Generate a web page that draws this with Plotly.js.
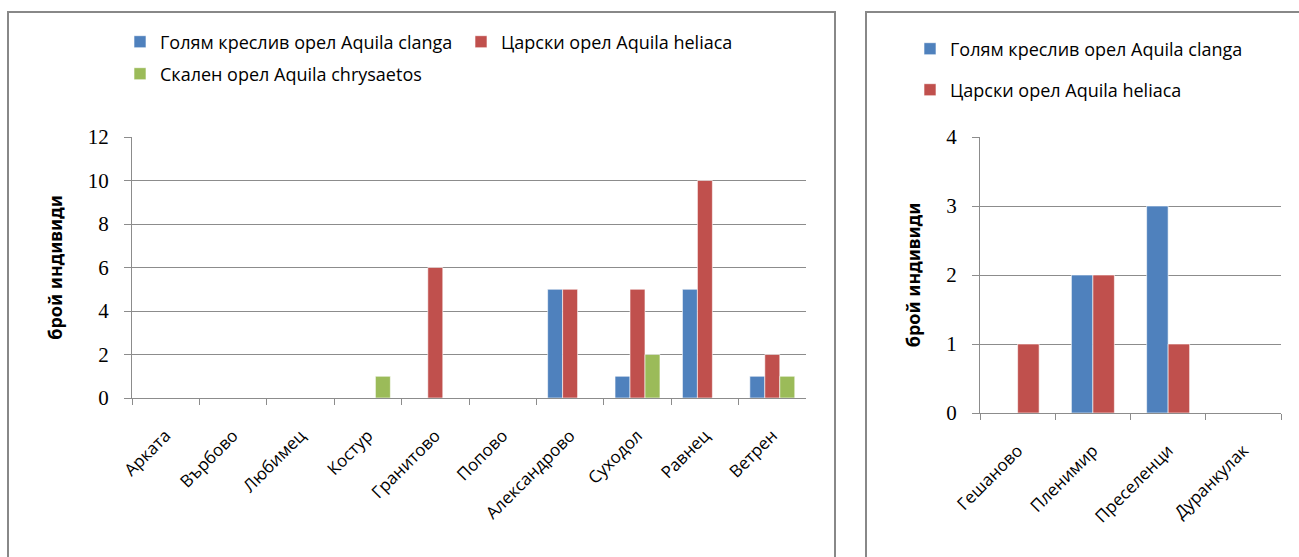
<!DOCTYPE html>
<html>
<head>
<meta charset="utf-8">
<script src="https://cdn.plot.ly/plotly-3.0.1.min.js"></script>
<style>
html,body{margin:0;padding:0;background:#fff;}
#chart{width:1299px;height:557px;}
</style>
</head>
<body>
<div id="chart"></div>
<script>
// ---- data ----
const seriesNames = ["Голям креслив орел Aquila clanga", "Царски орел Aquila heliaca", "Скален орел Aquila chrysaetos"];
const sitesLeft = ["Арката", "Върбово", "Любимец", "Костур", "Гранитово", "Попово", "Александрово", "Суходол", "Равнец", "Ветрен"];
const clangaLeft = [0, 0, 0, 0, 0, 0, 5, 1, 5, 1];
const heliacaLeft = [0, 0, 0, 0, 6, 0, 5, 5, 10, 2];
const chrysaetosLeft = [0, 0, 0, 1, 0, 0, 0, 2, 0, 1];
const sitesRight = ["Гешаново", "Пленимир", "Преселенци", "Дуранкулак"];
const clangaRight = [0, 2, 3, 0];
const heliacaRight = [1, 2, 1, 0];
const yTitle = "брой индивиди";

// ---- styles ----
const W = 1299, H = 557;
const px = v => v / W;
const py = v => 1 - v / H;
const colors = ["#4F81BD", "#C0504D", "#9BBB59"];
const gridCol = "#8c8c8c";
const lineStyle = {color: "#ffffff", width: 0.6};

const wL = 1 / 4.5, wR = 1 / 3.5;

const traces = [
  {type: "bar", x: sitesLeft, y: clangaLeft, name: seriesNames[0], marker: {color: colors[0], line: lineStyle}, width: wL, offset: -1.5 * wL, xaxis: "x", yaxis: "y", legend: "legend"},
  {type: "bar", x: sitesLeft, y: heliacaLeft, name: seriesNames[1], marker: {color: colors[1], line: lineStyle}, width: wL, offset: -0.5 * wL, xaxis: "x", yaxis: "y", legend: "legend"},
  {type: "bar", x: sitesLeft, y: chrysaetosLeft, name: seriesNames[2], marker: {color: colors[2], line: lineStyle}, width: wL, offset: 0.5 * wL, xaxis: "x", yaxis: "y", legend: "legend2"},
  {type: "bar", x: sitesRight, y: clangaRight, name: seriesNames[0], marker: {color: colors[0], line: lineStyle}, width: wR, offset: -wR, xaxis: "x2", yaxis: "y2", legend: "legend3"},
  {type: "bar", x: sitesRight, y: heliacaRight, name: seriesNames[1], marker: {color: colors[1], line: lineStyle}, width: wR, offset: 0, xaxis: "x2", yaxis: "y2", legend: "legend4"}
];

const legFont = {family: "Open Sans, Noto Sans, sans-serif", size: 18, color: "#000"};
const tickFontX = {family: "Open Sans, Noto Sans, sans-serif", size: 17, color: "#000"};
const tickFontY = {family: "Liberation Serif, serif", size: 21, color: "#000"};
const titleFont = {family: "Noto Sans, DejaVu Sans, sans-serif", size: 18, color: "#000", weight: "bold"};

function xAxis(domain, anchor) {
  return {domain: domain, anchor: anchor, type: "category", showgrid: false, showline: true, linecolor: gridCol, linewidth: 1,
    ticks: "outside", ticklen: 6, tickcolor: gridCol, tickson: "boundaries", tickangle: -45, tickfont: tickFontX,
    ticklabelstandoff: 20, fixedrange: true, zeroline: false};
}
function yAxis(domain, anchor, range, dtick, standoff) {
  return {domain: domain, anchor: anchor, range: range, dtick: dtick, showgrid: true, gridcolor: gridCol, gridwidth: 1,
    showline: true, linecolor: gridCol, linewidth: 1, ticks: "outside", ticklen: 7, tickcolor: gridCol,
    tickfont: tickFontY, ticklabelstandoff: 11, zeroline: false, fixedrange: true,
    title: {text: yTitle, font: titleFont, standoff: standoff}};
}

const layout = {
  width: W, height: H,
  margin: {l: 0, r: 0, t: 0, b: 0},
  paper_bgcolor: "#fff", plot_bgcolor: "#fff",
  barmode: "overlay",
  xaxis: xAxis([px(132), px(806)], "y"),
  yaxis: yAxis([py(398), py(137)], "x", [0, 12], 2, 20),
  xaxis2: xAxis([px(980), px(1281)], "y2"),
  yaxis2: yAxis([py(413), py(137)], "x2", [0, 4], 1, 20),
  legend: {orientation: "h", x: px(120), y: py(42), xanchor: "left", yanchor: "middle", font: legFont, entrywidth: 296, entrywidthmode: "pixels", bgcolor: "rgba(0,0,0,0)"},
  legend2: {orientation: "h", x: px(120), y: py(74), xanchor: "left", yanchor: "middle", font: legFont, bgcolor: "rgba(0,0,0,0)"},
  legend3: {orientation: "v", x: px(910), y: py(49), xanchor: "left", yanchor: "middle", font: legFont, bgcolor: "rgba(0,0,0,0)"},
  legend4: {orientation: "v", x: px(910), y: py(90), xanchor: "left", yanchor: "middle", font: legFont, bgcolor: "rgba(0,0,0,0)"},
  shapes: [
    {type: "rect", xref: "paper", yref: "paper", x0: px(8), x1: px(835), y0: -0.2, y1: py(12), line: {color: "#888", width: 2}, fillcolor: "rgba(0,0,0,0)", layer: "below"},
    {type: "rect", xref: "paper", yref: "paper", x0: px(866), x1: 1.2, y0: -0.2, y1: py(12), line: {color: "#888", width: 2}, fillcolor: "rgba(0,0,0,0)", layer: "below"}
  ],
  showlegend: true
};

Plotly.newPlot("chart", traces, layout, {displayModeBar: false, staticPlot: true});
</script>
</body>
</html>
